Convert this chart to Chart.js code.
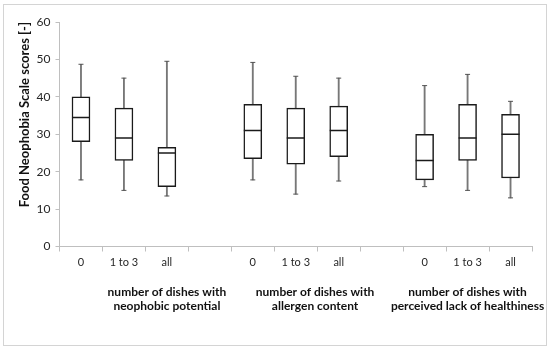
<!DOCTYPE html>
<html>
<head>
<meta charset="utf-8">
<script src="https://cdn.jsdelivr.net/npm/chart.js@4/dist/chart.umd.min.js"></script>
<style>
  body { margin: 0; background: #fff; }
  #wrap { position: relative; width: 550px; height: 350px; }
  #frame { position: absolute; left: 3px; top: 4px; width: 542px; height: 340px; border: 1px solid #d4d4d4; pointer-events: none; }
</style>
</head>
<body>
<div id="wrap">
  <canvas id="chart" width="550" height="350"></canvas>
  <div id="frame"></div>
</div>
<script>
// x categories (empty slots separate the three groups)
const categories = ['0', '1 to 3', 'all', '', '0', '1 to 3', 'all', '', '0', '1 to 3', 'all']

// box plot values
const mins    = [17.8, 15.0, 13.5, null, 17.8, 14.0, 17.5, null, 16.0, 15.0, 13.0]
const q1s     = [28.0, 23.0, 16.0, null, 23.5, 22.0, 24.0, null, 17.8, 23.0, 18.3]
const medians = [34.5, 29.0, 25.0, null, 31.0, 29.0, 31.0, null, 23.0, 29.0, 30.0]
const q3s     = [40.0, 37.0, 26.5, null, 38.0, 37.0, 37.5, null, 30.0, 38.0, 35.3]
const maxs    = [48.7, 45.0, 49.5, null, 49.2, 45.5, 45.0, null, 43.0, 46.0, 38.8]

// group titles under the axis
const groupTitles = [
	['number of dishes with', 'neophobic potential'],
	['number of dishes with', 'allergen content'],
	['number of dishes with', 'perceived lack of healthiness']
]

const yTitle = 'Food Neophobia Scale scores [-]'

const FONT = 'Lato, "Open Sans", sans-serif'

//build floating bar data from two arrays
function pairs(lo, hi) {
	return lo.map((v, i) => (v === null ? null : [v, hi[i]]))
}

//plugin that writes the group titles below the category labels
const groupLabels = {
	id: 'groupLabels',
	afterDraw(chart) {
		const ctx = chart.ctx
		const x = chart.scales.x
		const at = [2, 5.45, 9]
		const top = chart.chartArea.bottom
		ctx.save()
		ctx.font = 'bold 12px ' + FONT
		ctx.fillStyle = '#111'
		ctx.textAlign = 'center'
		ctx.textBaseline = 'middle'
		groupTitles.forEach((lines, g) => {
			const px = x.getPixelForValue(at[g])
			lines.forEach((t, k) => ctx.fillText(t, px, top + 45.5 + k * 14.5))
		})
		ctx.restore()
	}
}

const graph = document.getElementById('chart')

new Chart(graph, {
	data: {
		labels: categories,
		datasets: [
			{
				//median line
				type: 'line',
				data: medians,
				showLine: false,
				pointStyle: 'line',
				pointRadius: 9,
				borderColor: '#1a1a1a',
				borderWidth: 1.5,
				order: 0
			},
			{
				//box from q1 to q3
				type: 'bar',
				data: pairs(q1s, q3s),
				backgroundColor: '#ffffff',
				borderColor: '#1a1a1a',
				borderWidth: 1.5,
				borderSkipped: false,
				barThickness: 18,
				grouped: false,
				order: 1
			},
			{
				//whisker caps
				type: 'line',
				data: maxs,
				showLine: false,
				pointStyle: 'line',
				pointRadius: 2.5,
				borderColor: '#555',
				borderWidth: 1,
				order: 2
			},
			{
				type: 'line',
				data: mins,
				showLine: false,
				pointStyle: 'line',
				pointRadius: 2.5,
				borderColor: '#555',
				borderWidth: 1,
				order: 2
			},
			{
				//whisker line from min to max
				type: 'bar',
				data: pairs(mins, maxs),
				backgroundColor: '#777',
				borderWidth: 0,
				barThickness: 1.2,
				grouped: false,
				order: 3
			}
		]
	},
	options: {
		responsive: false,
		animation: false,
		layout: { padding: { left: 0, right: 18, top: 22, bottom: 0 } },
		plugins: {
			legend: { display: false },
			tooltip: { enabled: false }
		},
		scales: {
			x: {
				type: 'category',
				offset: true,
				grid: { display: true, drawOnChartArea: false, offset: true, tickLength: 5, color: '#bfbfbf' },
				border: { color: '#bfbfbf' },
				ticks: { color: '#262626', font: { family: FONT, size: 11 }, padding: 4, maxRotation: 0, autoSkip: false },
				afterFit: s => { s.height = 103.5 }
			},
			y: {
				min: 0,
				max: 60,
				grid: { drawOnChartArea: false, tickLength: 4, color: '#bfbfbf' },
				border: { color: '#bfbfbf' },
				ticks: { stepSize: 10, color: '#262626', font: { family: FONT, size: 12 }, padding: 5 },
				title: {
					display: true,
					text: yTitle,
					align: 'end',
					color: '#111',
					font: { family: FONT, size: 13, weight: 'bold' },
					padding: { top: 17.5, bottom: 0 }
				},
				afterFit: s => { s.width = 59.5 }
			}
		}
	},
	plugins: [groupLabels]
})
</script>
</body>
</html>
